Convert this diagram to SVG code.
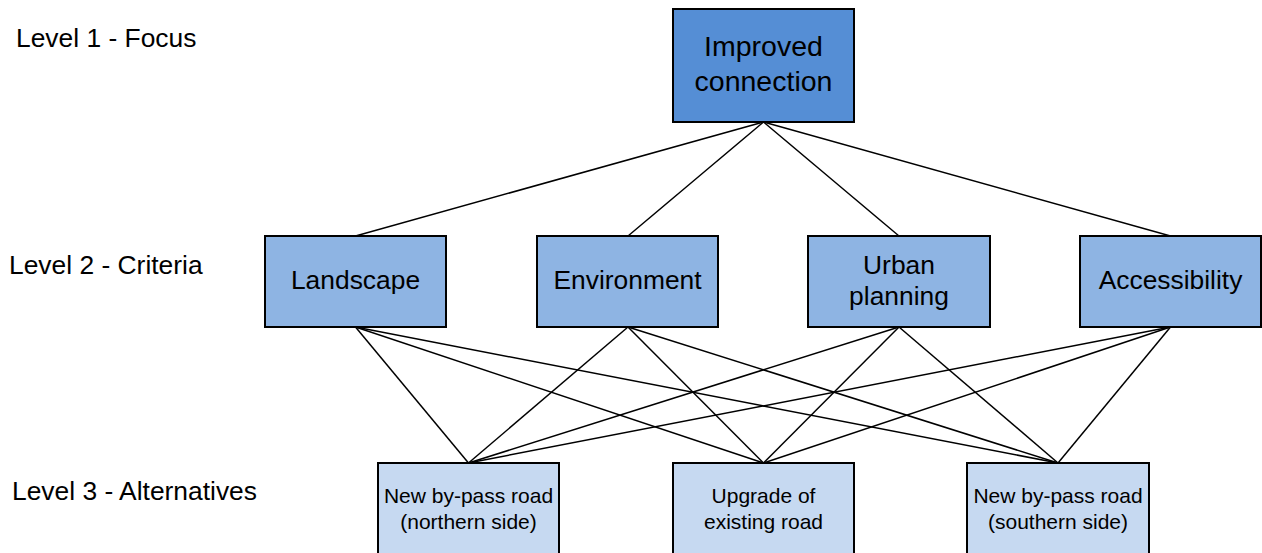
<svg xmlns="http://www.w3.org/2000/svg" width="1262" height="553" viewBox="0 0 1262 553">
<style>
text{font-family:"Liberation Sans",Arial,sans-serif;fill:#000;text-anchor:middle}
.lvl{font-size:26.4px;text-anchor:start}
.box{stroke:#000;stroke-width:2}
.l1{fill:#558ED5}
.l2{fill:#8EB4E3}
.l3{fill:#C6D9F1}
.t1{font-size:28.5px}
.t2{font-size:26.4px}
.t3{font-size:21px}
#connectors line{stroke:#000;stroke-width:1.5}
</style>
<rect width="1262" height="553" fill="#fff"/>
<g id="levels">
<text class="lvl" x="16" y="47">Level 1 - Focus</text>
<text class="lvl" x="9" y="274">Level 2 - Criteria</text>
<text class="lvl" x="12" y="500">Level 3 - Alternatives</text>
</g>
<g id="connectors">
<line x1="763.5" y1="122" x2="355.5" y2="236"/>
<line x1="763.5" y1="122" x2="628" y2="236"/>
<line x1="763.5" y1="122" x2="899" y2="236"/>
<line x1="763.5" y1="122" x2="1170.5" y2="236"/>
<line x1="355.5" y1="327" x2="468.5" y2="463"/>
<line x1="355.5" y1="327" x2="763.5" y2="463"/>
<line x1="355.5" y1="327" x2="1058" y2="463"/>
<line x1="628" y1="327" x2="468.5" y2="463"/>
<line x1="628" y1="327" x2="763.5" y2="463"/>
<line x1="628" y1="327" x2="1058" y2="463"/>
<line x1="899" y1="327" x2="468.5" y2="463"/>
<line x1="899" y1="327" x2="763.5" y2="463"/>
<line x1="899" y1="327" x2="1058" y2="463"/>
<line x1="1170.5" y1="327" x2="468.5" y2="463"/>
<line x1="1170.5" y1="327" x2="763.5" y2="463"/>
<line x1="1170.5" y1="327" x2="1058" y2="463"/>
</g>
<g id="focus">
<rect class="box l1" x="673" y="9" width="181" height="113"/>
<text class="t1" x="763.5" y="56">Improved</text>
<text class="t1" x="763.5" y="91">connection</text>
</g>
<g id="landscape">
<rect class="box l2" x="265" y="236" width="181" height="91"/>
<text class="t2" x="355.5" y="289">Landscape</text>
</g>
<g id="environment">
<rect class="box l2" x="537" y="236" width="181" height="91"/>
<text class="t2" x="627.5" y="289">Environment</text>
</g>
<g id="urban">
<rect class="box l2" x="808" y="236" width="182" height="91"/>
<text class="t2" x="899" y="274">Urban</text>
<text class="t2" x="899" y="305">planning</text>
</g>
<g id="accessibility">
<rect class="box l2" x="1080" y="236" width="181" height="91"/>
<text class="t2" x="1170.5" y="289">Accessibility</text>
</g>
<g id="northern">
<rect class="box l3" x="378" y="463" width="181" height="92"/>
<text class="t3" x="468.5" y="503">New by-pass road</text>
<text class="t3" x="468.5" y="529">(northern side)</text>
</g>
<g id="upgrade">
<rect class="box l3" x="673" y="463" width="181" height="92"/>
<text class="t3" x="763.5" y="503">Upgrade of</text>
<text class="t3" x="763.5" y="529">existing road</text>
</g>
<g id="southern">
<rect class="box l3" x="967" y="463" width="182" height="92"/>
<text class="t3" x="1058" y="503">New by-pass road</text>
<text class="t3" x="1058" y="529">(southern side)</text>
</g>
</svg>
